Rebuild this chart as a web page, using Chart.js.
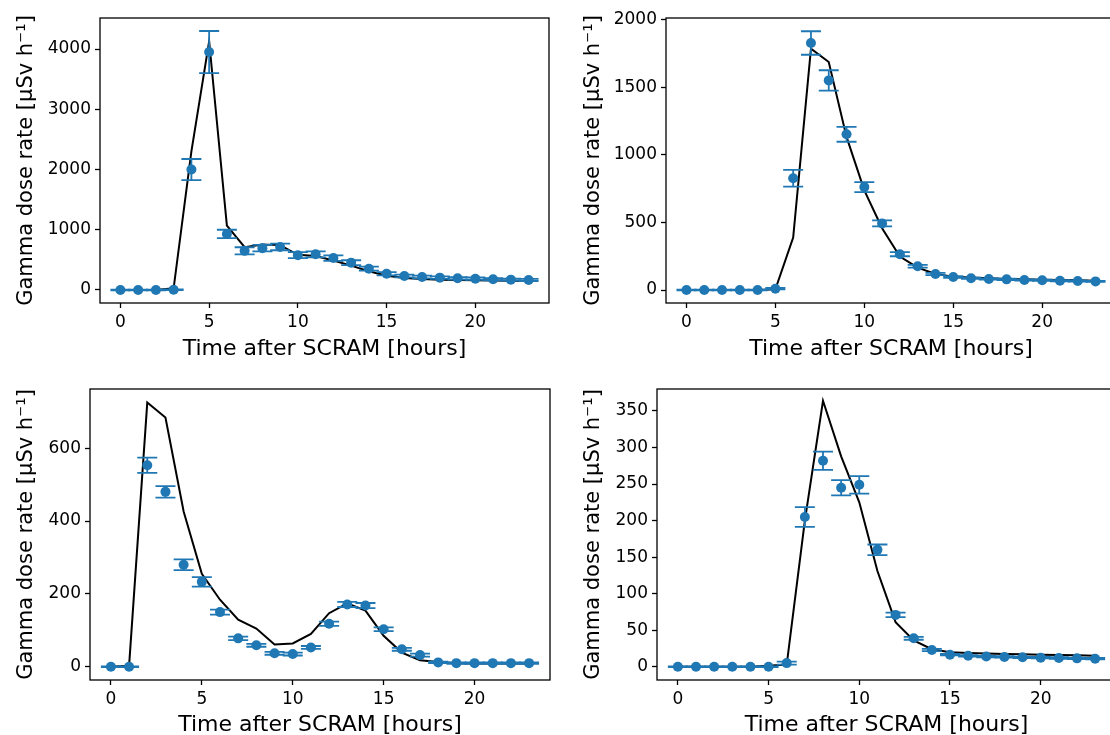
<!DOCTYPE html>
<html>
<head>
<meta charset="utf-8">
<script src="https://cdn.jsdelivr.net/npm/chart.js@4/dist/chart.umd.min.js"></script>
<style>
  html, body { margin: 0; padding: 0; background: #fff; }
  body { position: relative; width: 1110px; height: 735px; overflow: hidden; }
  .panel { position: absolute; }
</style>
</head>
<body>
<div class="panel" style="left:0;top:0;width:560px;height:367px"><canvas id="p1"></canvas></div>
<div class="panel" style="left:560px;top:0;width:570px;height:367px"><canvas id="p2"></canvas></div>
<div class="panel" style="left:0;top:367px;width:560px;height:380px"><canvas id="p3"></canvas></div>
<div class="panel" style="left:560px;top:367px;width:570px;height:380px"><canvas id="p4"></canvas></div>
<script>
// hourly readings after shutdown
const hours = [0, 1, 2, 3, 4, 5, 6, 7, 8, 9, 10, 11, 12, 13, 14, 15, 16, 17, 18, 19, 20, 21, 22, 23];
const xTicks = [0, 5, 10, 15, 20];

// station A
const measuredA = [0, 0, 0, 5, 2000, 3950, 930, 650, 695, 715, 578, 592, 530, 454, 354, 271, 232, 216, 205, 194, 188, 177, 172, 166];
const errorA = [5, 5, 5, 5, 175, 350, 70, 60, 55, 55, 50, 50, 45, 40, 33, 27, 24, 22, 21, 20, 19, 18, 17, 17];
const modelA = [0, 0, 0, 30, 2300, 4130, 1070, 710, 755, 745, 585, 565, 490, 405, 310, 235, 200, 183, 172, 166, 160, 156, 152, 150];
const yTicksA = [0, 1000, 2000, 3000, 4000];

// station B
const measuredB = [0, 0, 0, 0, 0, 10, 827, 1829, 1552, 1153, 762, 493, 265, 176, 119, 97, 87, 82, 79, 74, 72, 69, 67, 64];
const errorB = [2, 2, 2, 2, 2, 5, 62, 87, 75, 55, 37, 22, 15, 10, 8, 6, 5, 5, 5, 4, 4, 4, 4, 4];
const modelB = [0, 0, 0, 0, 0, 5, 389, 1787, 1688, 1134, 738, 458, 248, 166, 119, 99, 92, 87, 82, 79, 77, 74, 72, 69];
const yTicksB = [0, 500, 1000, 1500, 2000];

// station C
const measuredC = [0, 0, 553, 480, 280, 233, 150, 78, 59, 37, 35, 53, 118, 171, 168, 103, 48, 32, 12, 10, 10, 10, 10, 10];
const errorC = [1, 1, 21, 16, 15, 13, 7, 5, 4, 4, 4, 4, 6, 7, 7, 5, 4, 4, 2, 2, 2, 2, 2, 2];
const modelC = [0, 3, 725, 684, 426, 255, 184, 129, 105, 61, 64, 90, 147, 174, 154, 85, 39, 18, 13, 10, 9, 9, 9, 9];
const yTicksC = [0, 200, 400, 600];

// station D
const measuredD = [0, 0, 0, 0, 0, 0, 5, 205, 282, 245, 249, 160, 71, 39, 23, 16.5, 15, 14, 13.5, 13, 12.5, 12, 11.5, 11];
const errorD = [0.5, 0.5, 0.5, 0.5, 0.5, 0.5, 2, 13.5, 12.5, 10.5, 12, 7.3, 3, 2, 1.5, 1, 1, 1, 1, 1, 1, 1, 1, 1];
const modelD = [0, 0, 0, 0, 0, 1.5, 3, 200, 364, 288, 225, 131, 61, 36, 24, 20, 19, 18, 17.4, 17, 16.5, 16, 15.6, 15];
const yTicksD = [0, 50, 100, 150, 200, 250, 300, 350];

const BLUE = '#1f77b4';
const FONT = 'DejaVu Sans';
const X_TITLE = 'Time after SCRAM [hours]';
const Y_TITLE = 'Gamma dose rate [μSv h⁻¹]';
const CAP = 10;

// vertical error bars with caps, drawn just before the markers
const errorBars = {
  id: 'errorBars',
  beforeDatasetDraw(chart, args) {
    if (args.index !== 0) return;
    const { ctx, scales: { x, y } } = chart;
    const ds = chart.data.datasets[0];
    ctx.save();
    ctx.strokeStyle = BLUE;
    ctx.lineWidth = 1.8;
    ds.data.forEach((p, i) => {
      const px = x.getPixelForValue(p.x);
      const top = y.getPixelForValue(p.y + ds.errors[i]);
      const bot = y.getPixelForValue(p.y - ds.errors[i]);
      ctx.beginPath();
      ctx.moveTo(px, top); ctx.lineTo(px, bot);
      ctx.moveTo(px - CAP, top); ctx.lineTo(px + CAP, top);
      ctx.moveTo(px - CAP, bot); ctx.lineTo(px + CAP, bot);
      ctx.stroke();
    });
    ctx.restore();
  }
};

// full box around the plot area
const frame = {
  id: 'frame',
  afterDatasetsDraw(chart) {
    const { ctx, chartArea: a } = chart;
    ctx.save();
    ctx.strokeStyle = '#000';
    ctx.lineWidth = 1.3;
    ctx.strokeRect(a.left, a.top, a.right - a.left, a.bottom - a.top);
    ctx.restore();
  }
};

function axis(ticks, min, max, title, titleSize, titlePad, fit) {
  return {
    type: 'linear',
    min: min,
    max: max,
    afterBuildTicks: s => { s.ticks = ticks.map(v => ({ value: v })); },
    afterFit: fit,
    border: { display: false },
    grid: { drawOnChartArea: false, drawTicks: true, tickLength: 5, tickWidth: 1.3, tickColor: '#000' },
    ticks: { color: '#000', padding: 4, font: { family: FONT, size: 17 }, callback: v => String(v), maxRotation: 0 },
    title: { display: true, text: title, color: '#000', font: { family: FONT, size: titleSize }, padding: titlePad }
  };
}

function makePanel(id, measured, errors, model, yTicks, yMin, yMax, box) {
  new Chart(document.getElementById(id), {
    type: 'scatter',
    data: {
      datasets: [
        {
          data: hours.map((h, i) => ({ x: h, y: measured[i] })),
          errors: errors,
          pointRadius: 5,
          pointHoverRadius: 5,
          pointBackgroundColor: BLUE,
          pointBorderWidth: 0,
          showLine: false
        },
        {
          data: hours.map((h, i) => ({ x: h, y: model[i] })),
          showLine: true,
          borderColor: '#000',
          borderWidth: 2,
          pointRadius: 0,
          tension: 0
        }
      ]
    },
    options: {
      responsive: true,
      maintainAspectRatio: false,
      animation: false,
      events: [],
      layout: { padding: { top: box.top, right: box.right, left: 0, bottom: 0 } },
      plugins: { legend: { display: false }, tooltip: { enabled: false } },
      scales: {
        x: axis(xTicks, -1.15, 24.15, X_TITLE, 22, { top: 0, bottom: box.xTitlePad }, s => { s.height = box.xH; }),
        y: axis(yTicks, yMin, yMax, Y_TITLE, 21, { top: box.yTitlePad, bottom: 0 }, s => { s.width = box.yW; })
      }
    },
    plugins: [errorBars, frame]
  });
}

makePanel('p1', measuredA, errorA, modelA, yTicksA, -216, 4516, { top: 18, right: 11, yW: 100, xH: 64, yTitlePad: 13.5, xTitlePad: 5 });
makePanel('p2', measuredB, errorB, modelB, yTicksB, -96, 2014, { top: 18, right: 14, yW: 106, xH: 64, yTitlePad: 20.5, xTitlePad: 5 });
makePanel('p3', measuredC, errorC, modelC, yTicksC, -36.3, 762.3, { top: 22, right: 10, yW: 90, xH: 67, yTitlePad: 13.5, xTitlePad: 9 });
makePanel('p4', measuredD, errorD, modelD, yTicksD, -18.1, 380.1, { top: 22, right: 14, yW: 97, xH: 67, yTitlePad: 20.5, xTitlePad: 9 });
</script>
</body>
</html>
